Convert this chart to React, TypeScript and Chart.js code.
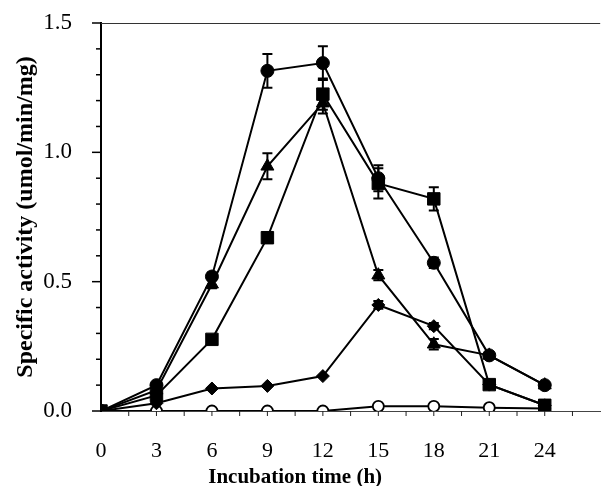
import React, { useEffect, useRef } from "react";
import { Chart, registerables } from "chart.js";

Chart.register(...registerables);

const hours = [0, 3, 6, 9, 12, 15, 18, 21, 24];
const xTickLabels = ["0", "3", "6", "9", "12", "15", "18", "21", "24"];
const yTickLabels = ["0.0", "0.5", "1.0", "1.5"];

const circleFilled = [0, 0.1, 0.52, 1.315, 1.345, 0.9, 0.573, 0.215, 0.1];
const circleFilledErr = [0, 0, 0.015, 0.065, 0.065, 0.05, 0.02, 0.01, 0.01];

const triangle = [0, 0.08, 0.49, 0.946, 1.19, 0.525, 0.258, 0.215, 0.1];
const triangleErr = [0, 0, 0.015, 0.05, 0.04, 0.02, 0.02, 0, 0];

const square = [0, 0.06, 0.277, 0.67, 1.225, 0.88, 0.82, 0.102, 0.022];
const squareErr = [0, 0, 0.01, 0.02, 0.06, 0.058, 0.045, 0.01, 0.01];

const diamond = [0, 0.03, 0.087, 0.097, 0.135, 0.41, 0.328, 0.102, 0.022];
const diamondErr = [0, 0, 0, 0, 0, 0.015, 0.012, 0, 0];

const openCircle = [0, 0, 0, 0, 0, 0.018, 0.018, 0.013, 0.01];

const xTitle = "Incubation time (h)";
const yTitle = "Specific activity (umol/min/mg)";

const serif = "'Liberation Serif', 'Times New Roman', serif";

const decorPlugin = {
  id: "decor",
  beforeDatasetsDraw(chart: any) {
    const { ctx, chartArea, scales } = chart;
    const x = scales.x;
    const y = scales.y;
    ctx.save();
    ctx.strokeStyle = "#333";
    ctx.lineWidth = 1;
    ctx.beginPath();
    ctx.moveTo(chartArea.left, chartArea.top + 0.5);
    ctx.lineTo(chartArea.right, chartArea.top + 0.5);
    ctx.stroke();
    ctx.strokeStyle = "#000";
    ctx.lineWidth = 1.5;
    for (let v = 0; v <= 15; v++) {
      const py = y.getPixelForValue(v / 10);
      const len = v % 5 === 0 ? 9 : 5;
      ctx.beginPath();
      ctx.moveTo(chartArea.left - len, py);
      ctx.lineTo(chartArea.left, py);
      ctx.stroke();
    }
    ctx.lineWidth = 1;
    ctx.strokeStyle = "#222";
    for (let v = 1; v <= 17; v++) {
      const px = x.getPixelForValue(v * 1.5);
      ctx.beginPath();
      ctx.moveTo(px, chartArea.bottom);
      ctx.lineTo(px, chartArea.bottom + 5);
      ctx.stroke();
    }
    ctx.restore();
  },
  afterDatasetsDraw(chart: any) {
    const { ctx, scales } = chart;
    const x = scales.x;
    const y = scales.y;
    ctx.save();
    ctx.strokeStyle = "#000";
    ctx.lineWidth = 2;
    chart.data.datasets.forEach((ds: any) => {
      const errs = ds.errors as number[] | undefined;
      if (!errs) return;
      ds.data.forEach((pt: any, i: number) => {
        const e = errs[i];
        if (!e) return;
        const px = x.getPixelForValue(pt.x);
        const top = y.getPixelForValue(pt.y + e);
        const bot = y.getPixelForValue(pt.y - e);
        ctx.beginPath();
        ctx.moveTo(px, top);
        ctx.lineTo(px, bot);
        ctx.moveTo(px - 5, top);
        ctx.lineTo(px + 5, top);
        ctx.moveTo(px - 5, bot);
        ctx.lineTo(px + 5, bot);
        ctx.stroke();
      });
    });
    ctx.restore();
  },
  afterDraw(chart: any) {
    const { ctx, chartArea, scales } = chart;
    ctx.save();
    ctx.fillStyle = "#000";
    ctx.textAlign = "center";
    ctx.textBaseline = "middle";
    ctx.font = `bold 21px ${serif}`;
    ctx.fillText(xTitle, scales.x.getPixelForValue(10.5), chartArea.bottom + 67);
    ctx.font = `bold 24px ${serif}`;
    ctx.translate(26, (chartArea.top + chartArea.bottom) / 2);
    ctx.rotate(-Math.PI / 2);
    ctx.fillText(yTitle, 0, 0);
    ctx.restore();
  },
};

export default function App() {
  const ref = useRef<HTMLCanvasElement | null>(null);
  useEffect(() => {
    if (!ref.current) return;
    const mk = (data: number[], errors: number[] | null, style: string, radius: number, open = false) => ({
      data: data.map((v, j) => ({ x: hours[j], y: v })),
      errors,
      borderColor: "#000",
      borderWidth: 2,
      pointStyle: style,
      pointRadius: radius,
      pointBackgroundColor: open ? "#fff" : "#000",
      pointBorderColor: "#000",
      pointBorderWidth: open ? 1.8 : 1,
      tension: 0,
      fill: false,
    });
    const chart = new Chart(ref.current, {
      type: "line",
      data: {
        datasets: [
          mk(openCircle, null, "circle", 5.5, true),
          mk(diamond, diamondErr, "rectRot", 6.5),
          mk(triangle, triangleErr, "triangle", 7.5),
          mk(square, squareErr, "rect", 8.8),
          mk(circleFilled, circleFilledErr, "circle", 6.5),
        ].map((d, i) => ({ ...d, order: 5 - i })) as any,
      },
      options: {
        animation: false,
        responsive: false,
        maintainAspectRatio: false,
        layout: { padding: { top: 23, right: 1, left: 0, bottom: 0 } },
        plugins: { legend: { display: false }, tooltip: { enabled: false } },
        scales: {
          x: {
            type: "linear",
            min: 0,
            max: 27,
            afterFit: (s: any) => { s.height = 75; s.paddingLeft = 0; s.paddingRight = 0; },
            afterBuildTicks: (s: any) => { s.ticks = hours.map((v) => ({ value: v })); },
            grid: { display: false },
            border: { display: true, color: "#444", width: 1 },
            ticks: {
              padding: 19,
              color: "#000",
              font: { family: serif, size: 22 },
              maxRotation: 0,
              autoSkip: false,
              callback: (v: any) => xTickLabels[hours.indexOf(Number(v))] ?? "",
            },
          },
          y: {
            min: 0,
            max: 1.5,
            afterFit: (s: any) => { s.width = 101; s.paddingTop = 0; s.paddingBottom = 0; },
            afterBuildTicks: (s: any) => { s.ticks = [0, 0.5, 1, 1.5].map((v) => ({ value: v })); },
            grid: { display: false },
            border: { display: true, color: "#000", width: 2 },
            ticks: {
              padding: 21,
              color: "#000",
              font: { family: serif, size: 23 },
              callback: (v: any) => yTickLabels[Math.round(Number(v) * 2)] ?? "",
            },
          },
        },
      } as any,
      plugins: [decorPlugin],
    });
    return () => chart.destroy();
  }, []);
  return (
    <div style={{ position: "fixed", left: 0, top: 0, width: 610, height: 486, background: "#fff" }}>
      <canvas ref={ref} width={610} height={486} style={{ width: 610, height: 486 }} />
    </div>
  );
}
